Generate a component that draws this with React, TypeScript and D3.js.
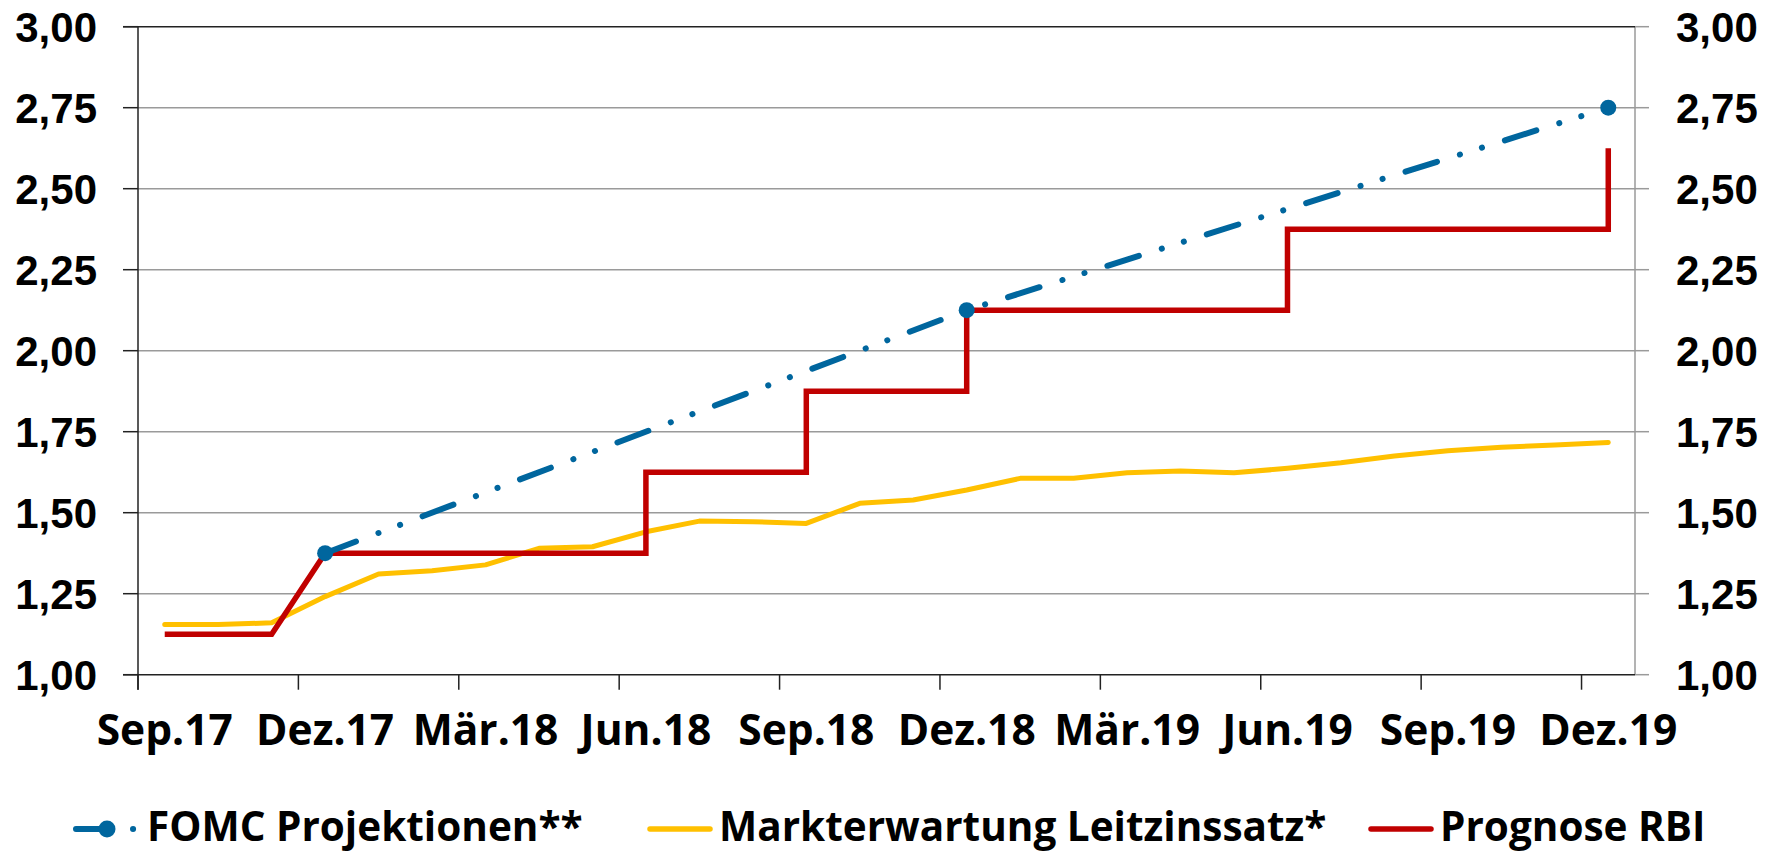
import { useEffect, useRef } from "react";
import * as d3 from "d3";

// Monate (Kategorien der x-Achse)
const monate = [
  "Sep.17", "Okt.17", "Nov.17", "Dez.17",
  "Jan.18", "Feb.18", "Mär.18", "Apr.18", "Mai.18", "Jun.18",
  "Jul.18", "Aug.18", "Sep.18", "Okt.18", "Nov.18", "Dez.18",
  "Jan.19", "Feb.19", "Mär.19", "Apr.19", "Mai.19", "Jun.19",
  "Jul.19", "Aug.19", "Sep.19", "Okt.19", "Nov.19", "Dez.19",
];

// Markterwartung Leitzinssatz* (ein Wert pro Monat)
const markterwartung = [
  1.155, 1.155, 1.16, 1.241, 1.311, 1.321, 1.339, 1.39, 1.395, 1.441,
  1.474, 1.472, 1.467, 1.529, 1.539, 1.57, 1.606, 1.606, 1.623, 1.629,
  1.623, 1.637, 1.654, 1.675, 1.691, 1.702, 1.709, 1.717,
];

// FOMC Projektionen**
const fomcMonate = ["Dez.17", "Dez.18", "Dez.19"];
const fomcWerte = [1.375, 2.125, 2.75];

// Prognose RBI (Stufen: gleicher Monat zweimal = senkrechter Sprung)
const rbiMonate = [
  "Sep.17", "Nov.17", "Dez.17", "Jun.18", "Jun.18", "Sep.18", "Sep.18",
  "Dez.18", "Dez.18", "Jun.19", "Jun.19", "Dez.19", "Dez.19",
];
const rbiWerte = [
  1.125, 1.125, 1.375, 1.375, 1.625, 1.625, 1.875,
  1.875, 2.125, 2.125, 2.375, 2.375, 2.625,
];

const yTicks = [1, 1.25, 1.5, 1.75, 2, 2.25, 2.5, 2.75, 3];

const legende = [
  { label: "FOMC Projektionen**", farbe: "#00669E", x: 76, typ: "fomc" },
  { label: "Markterwartung Leitzinssatz*", farbe: "#FFC000", x: 650, typ: "linie" },
  { label: "Prognose RBI", farbe: "#C00000", x: 1371, typ: "linie" },
];

const BLAU = "#00669E";
const GELB = "#FFC000";
const ROT = "#C00000";
const DASH = "33 24 0.1 23 0.1 24";

const App = () => {
  const ref = useRef<SVGSVGElement | null>(null);

  useEffect(() => {
    if (!ref.current) return;
    const svg = d3.select(ref.current);
    svg.selectAll("*").remove();

    const left = 138;
    const right = 1635;
    const top = 26.7;
    const bottom = 674.7;

    const x = d3.scaleBand<string>().domain(monate).range([left, right]).paddingInner(0).paddingOuter(0);
    const bw = x.bandwidth();
    const cx = (m: string) => (x(m) as number) + bw / 2;
    const y = d3.scaleLinear().domain([1, 3]).range([bottom, top]);

    const g = svg.append("g");

    // Gitterlinien
    g.selectAll(".grid")
      .data(yTicks.filter((t) => t > 1 && t < 3))
      .enter()
      .append("line")
      .attr("x1", left)
      .attr("x2", right)
      .attr("y1", (d) => y(d))
      .attr("y2", (d) => y(d))
      .attr("stroke", "#9a9a9a")
      .attr("stroke-width", 1.5);

    // rechte Achse (grau) + Ticks
    g.append("line")
      .attr("x1", right).attr("x2", right)
      .attr("y1", top).attr("y2", bottom)
      .attr("stroke", "#9a9a9a").attr("stroke-width", 1.5);
    g.selectAll(".rtick")
      .data(yTicks)
      .enter()
      .append("line")
      .attr("x1", right).attr("x2", right + 14)
      .attr("y1", (d) => y(d)).attr("y2", (d) => y(d))
      .attr("stroke", "#9a9a9a").attr("stroke-width", 1.5);

    // obere Linie
    g.append("line")
      .attr("x1", left - 15).attr("x2", right)
      .attr("y1", top).attr("y2", top)
      .attr("stroke", "#222").attr("stroke-width", 1.5);

    // linke Achse + Ticks
    g.append("line")
      .attr("x1", left).attr("x2", left)
      .attr("y1", top).attr("y2", bottom + 15)
      .attr("stroke", "#222").attr("stroke-width", 1.5);
    g.selectAll(".ltick")
      .data(yTicks)
      .enter()
      .append("line")
      .attr("x1", left - 15).attr("x2", left)
      .attr("y1", (d) => y(d)).attr("y2", (d) => y(d))
      .attr("stroke", "#222").attr("stroke-width", 1.5);

    // x-Achse
    g.append("line")
      .attr("x1", left - 15).attr("x2", right)
      .attr("y1", bottom).attr("y2", bottom)
      .attr("stroke", "#222").attr("stroke-width", 1.5);

    const tickMonate = monate.filter((_, i) => i % 3 === 0);
    g.selectAll(".xtick")
      .data(tickMonate)
      .enter()
      .append("line")
      .attr("x1", (d) => x(d) as number).attr("x2", (d) => x(d) as number)
      .attr("y1", bottom).attr("y2", bottom + 15)
      .attr("stroke", "#222").attr("stroke-width", 1.5);

    // Beschriftungen y
    const yFmt = (d: number) => d.toFixed(2).replace(".", ",");
    g.selectAll(".ylab")
      .data(yTicks)
      .enter()
      .append("text")
      .attr("x", 97)
      .attr("y", (d) => y(d) + 15)
      .attr("text-anchor", "end")
      .style("font-family", "'Liberation Sans', Arial, sans-serif")
      .style("font-weight", "700")
      .style("font-size", "42px")
      .text(yFmt);
    g.selectAll(".ylabr")
      .data(yTicks)
      .enter()
      .append("text")
      .attr("x", 1676)
      .attr("y", (d) => y(d) + 15)
      .attr("text-anchor", "start")
      .style("font-family", "'Liberation Sans', Arial, sans-serif")
      .style("font-weight", "700")
      .style("font-size", "42px")
      .text(yFmt);

    // Beschriftungen x
    g.selectAll(".xlab")
      .data(tickMonate)
      .enter()
      .append("text")
      .attr("x", (d) => cx(d))
      .attr("y", 745)
      .attr("text-anchor", "middle")
      .style("font-family", "'Open Sans', sans-serif")
      .style("font-weight", "700")
      .style("font-size", "42.5px")
      .text((d) => d);

    // Markterwartung
    const linie = d3.line<[string, number]>().x((d) => cx(d[0])).y((d) => y(d[1]));
    g.append("path")
      .attr("d", linie(monate.map((m, i) => [m, markterwartung[i]] as [string, number])))
      .attr("fill", "none")
      .attr("stroke", GELB)
      .attr("stroke-width", 5)
      .attr("stroke-linejoin", "round")
      .attr("stroke-linecap", "round");

    // Prognose RBI
    g.append("path")
      .attr("d", linie(rbiMonate.map((m, i) => [m, rbiWerte[i]] as [string, number])))
      .attr("fill", "none")
      .attr("stroke", ROT)
      .attr("stroke-width", 5.5)
      .attr("stroke-linejoin", "miter");

    // FOMC
    const fomc = fomcMonate.map((m, i) => [m, fomcWerte[i]] as [string, number]);
    g.append("path")
      .attr("d", linie(fomc))
      .attr("fill", "none")
      .attr("stroke", BLAU)
      .attr("stroke-width", 6)
      .attr("stroke-linecap", "round")
      .attr("stroke-dasharray", DASH);
    g.selectAll(".punkt")
      .data(fomc)
      .enter()
      .append("circle")
      .attr("cx", (d) => cx(d[0]))
      .attr("cy", (d) => y(d[1]))
      .attr("r", 8)
      .attr("fill", BLAU);

    // Legende
    const ly = 829;
    const lBase = 841;
    legende.forEach((l) => {
      if (l.typ === "fomc") {
        g.append("line")
          .attr("x1", l.x).attr("x2", l.x + 62)
          .attr("y1", ly).attr("y2", ly)
          .attr("stroke", l.farbe).attr("stroke-width", 6)
          .attr("stroke-linecap", "round")
          .attr("stroke-dasharray", DASH);
        g.append("circle").attr("cx", l.x + 31).attr("cy", ly).attr("r", 8.5).attr("fill", l.farbe);
        g.append("text")
          .attr("x", l.x + 71).attr("y", lBase)
          .style("font-family", "'Open Sans', sans-serif")
          .style("font-weight", "700")
          .style("font-size", "40.5px")
          .text(l.label);
      } else {
        g.append("line")
          .attr("x1", l.x).attr("x2", l.x + 60)
          .attr("y1", ly).attr("y2", ly)
          .attr("stroke", l.farbe).attr("stroke-width", 5.5)
          .attr("stroke-linecap", "round");
        g.append("text")
          .attr("x", l.x + 69).attr("y", lBase)
          .style("font-family", "'Open Sans', sans-serif")
          .style("font-weight", "700")
          .style("font-size", "40.5px")
          .text(l.label);
      }
    });
  }, []);

  return (
    <svg
      ref={ref}
      width={1778}
      height={852}
      style={{ position: "absolute", left: 0, top: 0, background: "#fff" }}
    />
  );
};

export default App;
